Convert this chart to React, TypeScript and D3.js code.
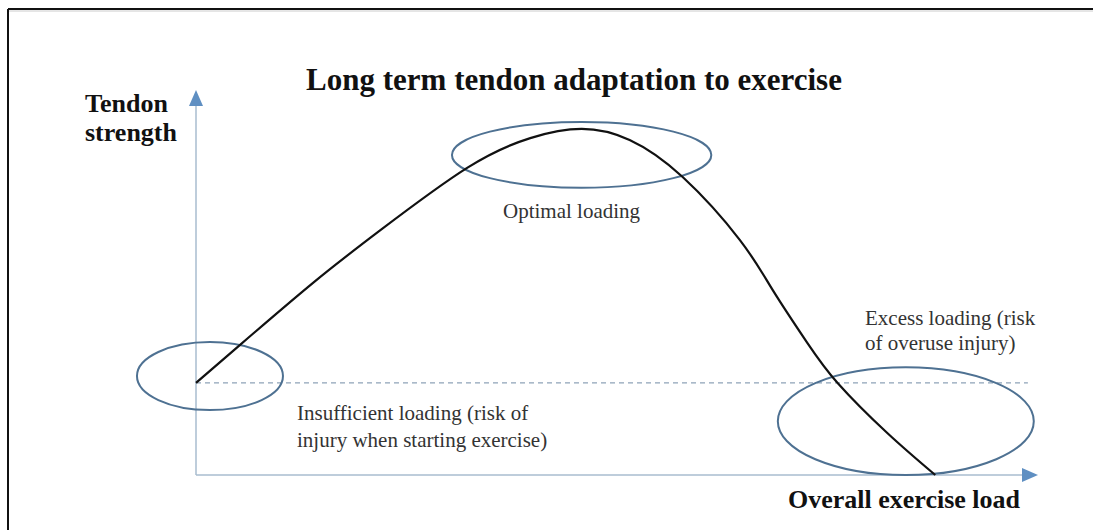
import React from "react";
import * as d3 from "d3";

// Curve: overall exercise load (x) vs tendon strength (y), arbitrary units 0-100
const loadValues = [0, 5.2, 13.9, 21.9, 32.2, 39.7, 45.8, 51.5, 57.8, 64.6, 68.5, 72.6, 76.2, 82.1, 87.8];
const strengthValues = [24.1, 34.0, 50.3, 64.1, 80.4, 88.2, 90.6, 87.7, 78.0, 61.5, 48.4, 34.6, 24.1, 11.0, 0];

// Baseline strength (dashed reference line)
const baselineStrength = 24.1;

// Highlighted regions (data units)
const regionNames = ["Insufficient", "Optimal", "Excess"];
const regionCenterLoad = [1.66, 45.8, 84.3];
const regionCenterStrength = [25.9, 83.8, 14.1];
const regionLoadRadius = [8.67, 15.4, 15.2];
const regionStrengthRadius = [8.9, 8.6, 14.1];

const W = 1093;
const H = 530;

export default function App() {
  const x = d3.scaleLinear().domain([0, 100]).range([196, 1038]);
  const y = d3.scaleLinear().domain([0, 100]).range([475, 93]);

  const pts: [number, number][] = loadValues.map((v, i) => [v, strengthValues[i]]);
  const line = d3
    .line<[number, number]>()
    .x((d) => x(d[0]))
    .y((d) => y(d[1]))
    .curve(d3.curveNatural);

  const axX = x(0);
  const axY = y(0);
  const xEnd = x(100);
  const yTop = y(100) - 3;

  const arrowColor = "#5f8fc2";
  const axisColor = "#a9bccf";

  return (
    <svg
      width={W}
      height={H}
      style={{ position: "absolute", left: 0, top: 0, background: "#fff" }}
      fontFamily="'Liberation Serif', 'Times New Roman', serif"
    >
      {/* frame */}
      <line x1={8} y1={9} x2={W} y2={9} stroke="#111" strokeWidth={2} />
      <line x1={8} y1={9} x2={8} y2={H} stroke="#111" strokeWidth={2} />
      <line x1={9} y1={11} x2={W} y2={11} stroke="#ccc" strokeWidth={1} />

      {/* title */}
      <text x={574} y={90} textAnchor="middle" fontWeight="bold" fontSize={31} fill="#111">
        Long term tendon adaptation to exercise
      </text>

      {/* axes */}
      <line x1={axX} y1={axY} x2={axX} y2={yTop + 14} stroke={axisColor} strokeWidth={1.5} />
      <path d={`M${axX},${yTop} L${axX - 7},${yTop + 16} L${axX + 7},${yTop + 16} Z`} fill={arrowColor} />
      <line x1={axX} y1={axY} x2={xEnd - 14} y2={axY} stroke={axisColor} strokeWidth={1.5} />
      <path d={`M${xEnd},${axY} L${xEnd - 16},${axY - 7} L${xEnd - 16},${axY + 7} Z`} fill={arrowColor} />

      {/* dashed baseline */}
      <line
        x1={axX}
        y1={y(baselineStrength)}
        x2={x(98.8)}
        y2={y(baselineStrength)}
        stroke="#8ea3b8"
        strokeWidth={1.2}
        strokeDasharray="5,4"
      />

      {/* regions */}
      {regionNames.map((n, i) => (
        <ellipse
          key={n}
          cx={x(regionCenterLoad[i])}
          cy={y(regionCenterStrength[i])}
          rx={x(regionLoadRadius[i]) - x(0)}
          ry={y(0) - y(regionStrengthRadius[i])}
          fill="none"
          stroke="#4e7192"
          strokeWidth={2}
        />
      ))}

      {/* curve */}
      <path d={line(pts) || ""} fill="none" stroke="#111" strokeWidth={2.2} />

      {/* axis labels */}
      <text x={85} y={112} fontWeight="bold" fontSize={26} fill="#111">Tendon</text>
      <text x={85} y={141} fontWeight="bold" fontSize={26} fill="#111">strength</text>
      <text x={788} y={508} fontWeight="bold" fontSize={26} fill="#111">Overall exercise load</text>

      {/* annotations */}
      <text x={503} y={218} fontSize={21} fill="#333">Optimal loading</text>
      <text x={297} y={420} fontSize={21} fill="#333">Insufficient loading (risk of</text>
      <text x={297} y={447} fontSize={21} fill="#333">injury when starting exercise)</text>
      <text x={865} y={325} fontSize={21} fill="#333">Excess loading (risk</text>
      <text x={865} y={350} fontSize={21} fill="#333">of overuse injury)</text>
    </svg>
  );
}
